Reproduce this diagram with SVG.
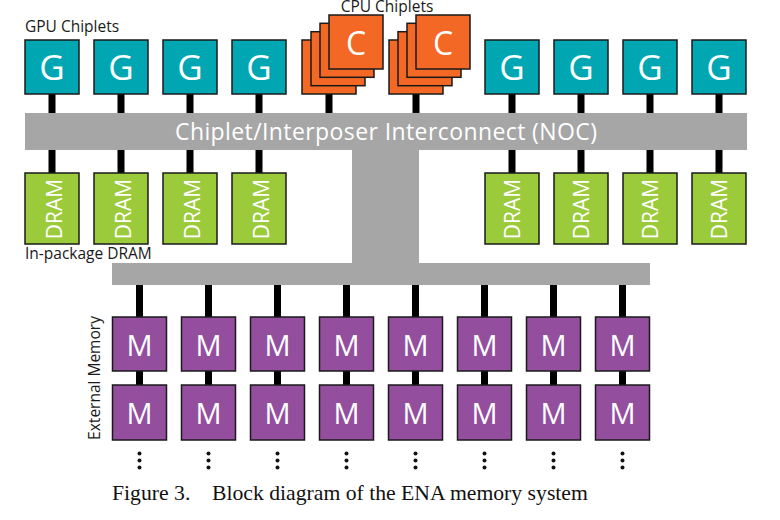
<svg xmlns="http://www.w3.org/2000/svg" width="780" height="520" viewBox="0 0 780 520">
<defs>
<style>
.g{fill:#00A7B3;stroke:#1a1a1a;stroke-width:1.5}
.c{fill:#F26824;stroke:#1a1a1a;stroke-width:1.5}
.d{fill:#9BCB3B;stroke:#1a1a1a;stroke-width:1.5}
.m{fill:#944E9E;stroke:#1a1a1a;stroke-width:1.5}
.bar{fill:#A6A6A6}
.stem{fill:#000}
.lt{font-family:"Open Sans","DejaVu Sans",sans-serif;fill:#fff;text-anchor:middle}
.lab{font-family:"Open Sans","DejaVu Sans",sans-serif;fill:#1a1a1a;font-size:15.5px}
.dot{fill:#111}
</style>
</defs>
<rect width="780" height="520" fill="#fff"/>
<text class="lab" x="387" y="11.5" text-anchor="middle">CPU Chiplets</text>
<g id="connectors">
<rect class="bar" x="25" y="113" width="722" height="37"/>
<rect class="bar" x="352" y="150" width="67" height="113"/>
<rect class="bar" x="112" y="263" width="538" height="22"/>
<g class="stem">
<rect x="48.5" y="94" width="7" height="19"/><rect x="117.5" y="94" width="7" height="19"/><rect x="186.5" y="94" width="7" height="19"/><rect x="255.5" y="94" width="7" height="19"/>
<rect x="325.5" y="94" width="7" height="19"/><rect x="412.5" y="94" width="7" height="19"/>
<rect x="508.5" y="94" width="7" height="19"/><rect x="577.5" y="94" width="7" height="19"/><rect x="646.5" y="94" width="7" height="19"/><rect x="715.5" y="94" width="7" height="19"/>
<rect x="48.5" y="150" width="7" height="23"/><rect x="117.5" y="150" width="7" height="23"/><rect x="186.5" y="150" width="7" height="23"/><rect x="255.5" y="150" width="7" height="23"/>
<rect x="508.5" y="150" width="7" height="23"/><rect x="577.5" y="150" width="7" height="23"/><rect x="646.5" y="150" width="7" height="23"/><rect x="715.5" y="150" width="7" height="23"/>
<rect x="136" y="285" width="7" height="32"/><rect x="205" y="285" width="7" height="32"/><rect x="274" y="285" width="7" height="32"/><rect x="343" y="285" width="7" height="32"/><rect x="412" y="285" width="7" height="32"/><rect x="481" y="285" width="7" height="32"/><rect x="550" y="285" width="7" height="32"/><rect x="619" y="285" width="7" height="32"/>
<rect x="136" y="371" width="7" height="14"/><rect x="205" y="371" width="7" height="14"/><rect x="274" y="371" width="7" height="14"/><rect x="343" y="371" width="7" height="14"/><rect x="412" y="371" width="7" height="14"/><rect x="481" y="371" width="7" height="14"/><rect x="550" y="371" width="7" height="14"/><rect x="619" y="371" width="7" height="14"/>
</g>
</g>
<text class="lt" x="386" y="140" font-size="23" textLength="422">Chiplet/Interposer Interconnect (NOC)</text>
<text class="lab" x="25" y="32">GPU Chiplets</text>
<g id="gpu1"><rect class="g" x="25" y="40" width="54" height="54"/><text class="lt" x="52" y="80" font-size="35">G</text></g>
<g id="gpu2"><rect class="g" x="94" y="40" width="54" height="54"/><text class="lt" x="121" y="80" font-size="35">G</text></g>
<g id="gpu3"><rect class="g" x="163" y="40" width="54" height="54"/><text class="lt" x="190" y="80" font-size="35">G</text></g>
<g id="gpu4"><rect class="g" x="232" y="40" width="54" height="54"/><text class="lt" x="259" y="80" font-size="35">G</text></g>
<g id="gpu5"><rect class="g" x="485" y="40" width="54" height="54"/><text class="lt" x="512" y="80" font-size="35">G</text></g>
<g id="gpu6"><rect class="g" x="554" y="40" width="54" height="54"/><text class="lt" x="581" y="80" font-size="35">G</text></g>
<g id="gpu7"><rect class="g" x="623" y="40" width="54" height="54"/><text class="lt" x="650" y="80" font-size="35">G</text></g>
<g id="gpu8"><rect class="g" x="692" y="40" width="54" height="54"/><text class="lt" x="719" y="80" font-size="35">G</text></g>
<g id="cpu1">
<rect class="c" x="302" y="40" width="54" height="54"/><rect class="c" x="311" y="31.7" width="54" height="54"/><rect class="c" x="320" y="23.3" width="54" height="54"/><rect class="c" x="329" y="15" width="54" height="54"/>
<text class="lt" x="356" y="55" font-size="32">C</text>
</g>
<g id="cpu2">
<rect class="c" x="389" y="40" width="54" height="54"/><rect class="c" x="398" y="31.7" width="54" height="54"/><rect class="c" x="407" y="23.3" width="54" height="54"/><rect class="c" x="416" y="15" width="54" height="54"/>
<text class="lt" x="443" y="55" font-size="32">C</text>
</g>
<g id="dram1"><rect class="d" x="25" y="173" width="54" height="71"/><text class="lt" font-size="21" transform="translate(61.5,209) rotate(-90)">DRAM</text></g>
<g id="dram2"><rect class="d" x="94" y="173" width="54" height="71"/><text class="lt" font-size="21" transform="translate(130.5,209) rotate(-90)">DRAM</text></g>
<g id="dram3"><rect class="d" x="163" y="173" width="54" height="71"/><text class="lt" font-size="21" transform="translate(199.5,209) rotate(-90)">DRAM</text></g>
<g id="dram4"><rect class="d" x="232" y="173" width="54" height="71"/><text class="lt" font-size="21" transform="translate(268.5,209) rotate(-90)">DRAM</text></g>
<g id="dram5"><rect class="d" x="485" y="173" width="54" height="71"/><text class="lt" font-size="21" transform="translate(519.5,209) rotate(-90)">DRAM</text></g>
<g id="dram6"><rect class="d" x="554" y="173" width="54" height="71"/><text class="lt" font-size="21" transform="translate(588.5,209) rotate(-90)">DRAM</text></g>
<g id="dram7"><rect class="d" x="623" y="173" width="54" height="71"/><text class="lt" font-size="21" transform="translate(657.5,209) rotate(-90)">DRAM</text></g>
<g id="dram8"><rect class="d" x="692" y="173" width="54" height="71"/><text class="lt" font-size="21" transform="translate(726.5,209) rotate(-90)">DRAM</text></g>
<text class="lab" x="25" y="259">In-package DRAM</text>
<text class="lab" transform="translate(100,378) rotate(-90)" text-anchor="middle">External Memory</text>
<g id="m1a"><rect class="m" x="112.5" y="317" width="54" height="54"/><text class="lt" x="139.5" y="356" font-size="29">M</text></g>
<g id="m2a"><rect class="m" x="181.5" y="317" width="54" height="54"/><text class="lt" x="208.5" y="356" font-size="29">M</text></g>
<g id="m3a"><rect class="m" x="250.5" y="317" width="54" height="54"/><text class="lt" x="277.5" y="356" font-size="29">M</text></g>
<g id="m4a"><rect class="m" x="319.5" y="317" width="54" height="54"/><text class="lt" x="346.5" y="356" font-size="29">M</text></g>
<g id="m5a"><rect class="m" x="388.5" y="317" width="54" height="54"/><text class="lt" x="415.5" y="356" font-size="29">M</text></g>
<g id="m6a"><rect class="m" x="457.5" y="317" width="54" height="54"/><text class="lt" x="484.5" y="356" font-size="29">M</text></g>
<g id="m7a"><rect class="m" x="526.5" y="317" width="54" height="54"/><text class="lt" x="553.5" y="356" font-size="29">M</text></g>
<g id="m8a"><rect class="m" x="595.5" y="317" width="54" height="54"/><text class="lt" x="622.5" y="356" font-size="29">M</text></g>
<g id="m1b"><rect class="m" x="112.5" y="385" width="54" height="55"/><text class="lt" x="139.5" y="424" font-size="29">M</text></g>
<g id="m2b"><rect class="m" x="181.5" y="385" width="54" height="55"/><text class="lt" x="208.5" y="424" font-size="29">M</text></g>
<g id="m3b"><rect class="m" x="250.5" y="385" width="54" height="55"/><text class="lt" x="277.5" y="424" font-size="29">M</text></g>
<g id="m4b"><rect class="m" x="319.5" y="385" width="54" height="55"/><text class="lt" x="346.5" y="424" font-size="29">M</text></g>
<g id="m5b"><rect class="m" x="388.5" y="385" width="54" height="55"/><text class="lt" x="415.5" y="424" font-size="29">M</text></g>
<g id="m6b"><rect class="m" x="457.5" y="385" width="54" height="55"/><text class="lt" x="484.5" y="424" font-size="29">M</text></g>
<g id="m7b"><rect class="m" x="526.5" y="385" width="54" height="55"/><text class="lt" x="553.5" y="424" font-size="29">M</text></g>
<g id="m8b"><rect class="m" x="595.5" y="385" width="54" height="55"/><text class="lt" x="622.5" y="424" font-size="29">M</text></g>
<g id="dots" class="dot">
<circle cx="139.5" cy="453.5" r="2"/><circle cx="139.5" cy="460.5" r="2"/><circle cx="139.5" cy="467.5" r="2"/>
<circle cx="208.5" cy="453.5" r="2"/><circle cx="208.5" cy="460.5" r="2"/><circle cx="208.5" cy="467.5" r="2"/>
<circle cx="277.5" cy="453.5" r="2"/><circle cx="277.5" cy="460.5" r="2"/><circle cx="277.5" cy="467.5" r="2"/>
<circle cx="346.5" cy="453.5" r="2"/><circle cx="346.5" cy="460.5" r="2"/><circle cx="346.5" cy="467.5" r="2"/>
<circle cx="415.5" cy="453.5" r="2"/><circle cx="415.5" cy="460.5" r="2"/><circle cx="415.5" cy="467.5" r="2"/>
<circle cx="484.5" cy="453.5" r="2"/><circle cx="484.5" cy="460.5" r="2"/><circle cx="484.5" cy="467.5" r="2"/>
<circle cx="553.5" cy="453.5" r="2"/><circle cx="553.5" cy="460.5" r="2"/><circle cx="553.5" cy="467.5" r="2"/>
<circle cx="622.5" cy="453.5" r="2"/><circle cx="622.5" cy="460.5" r="2"/><circle cx="622.5" cy="467.5" r="2"/>
</g>
<text x="112" y="500" font-family="'Liberation Serif',serif" font-size="21.7" fill="#111">Figure 3.</text>
<text x="212" y="500" font-family="'Liberation Serif',serif" font-size="21.7" fill="#111">Block diagram of the ENA memory system</text>
</svg>
